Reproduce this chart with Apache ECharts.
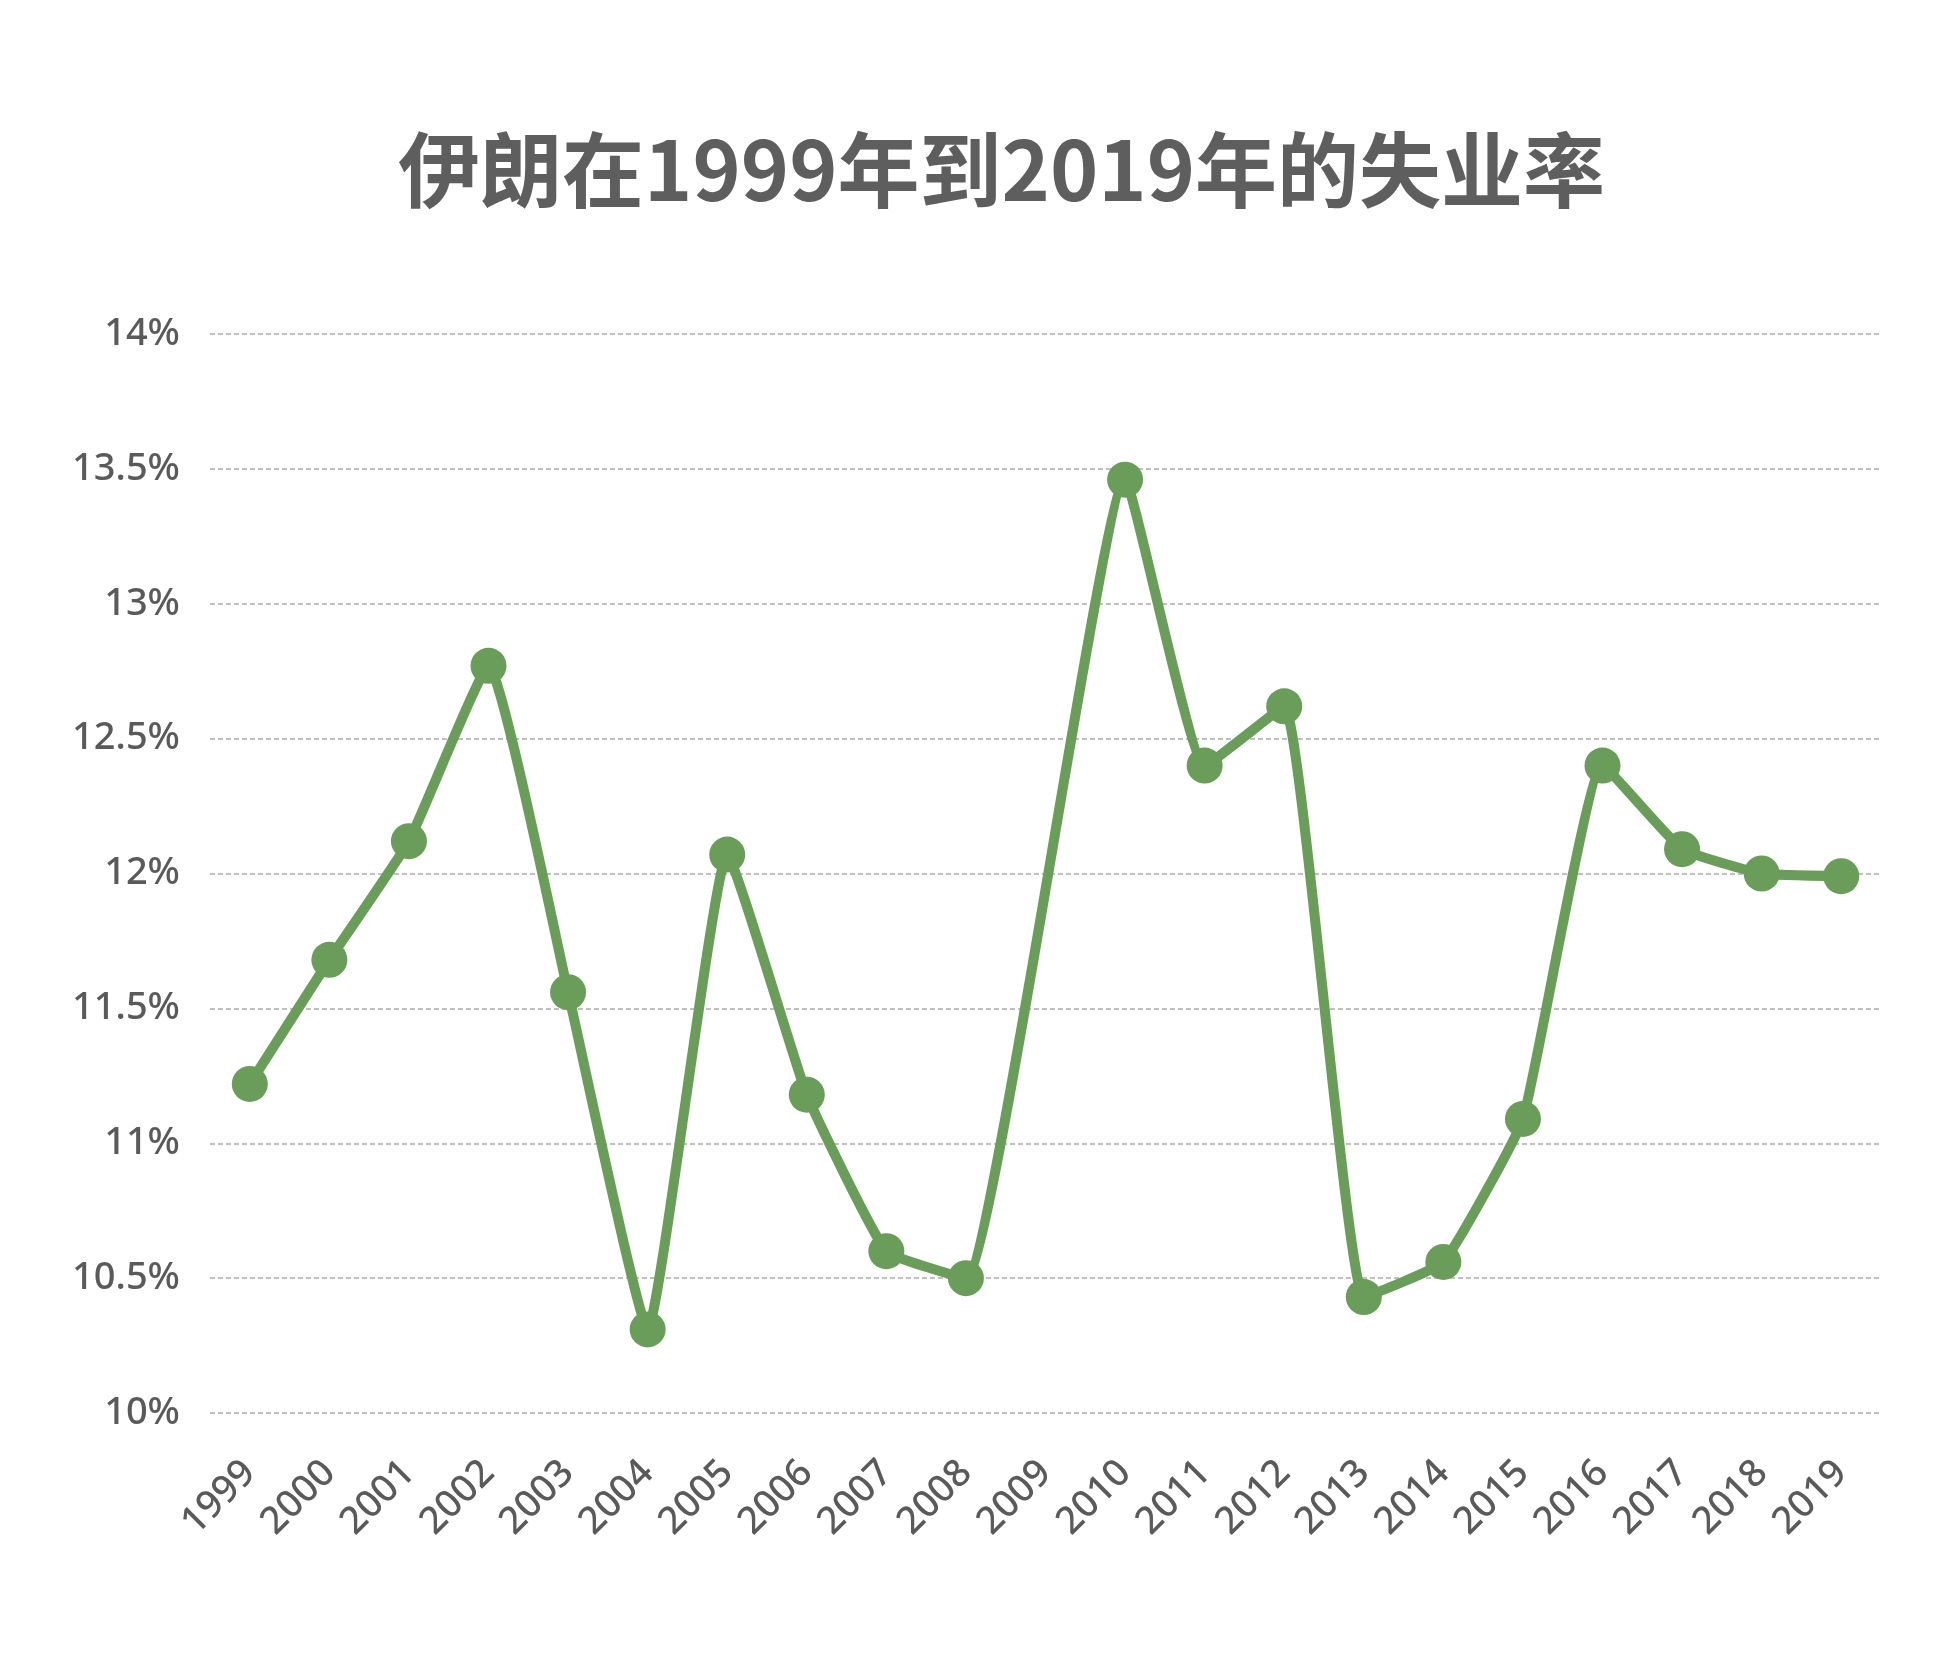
<!DOCTYPE html>
<html>
<head>
<meta charset="utf-8">
<script src="https://cdn.jsdelivr.net/npm/echarts@6/dist/echarts.min.js"></script>
<style>
html,body{margin:0;padding:0;background:#fff;}
#chart{width:1940px;height:1676px;}
</style>
</head>
<body>
<div id="chart"></div>
<script>
const titleText = '伊朗在1999年到2019年的失业率';
const years = ['1999','2000','2001','2002','2003','2004','2005','2006','2007','2008','2009','2010','2011','2012','2013','2014','2015','2016','2017','2018','2019'];
const unemployment = [11.22, 11.68, 12.12, 12.77, 11.56, 10.31, 12.07, 11.18, 10.60, 10.50, null, 13.46, 12.40, 12.62, 10.43, 10.56, 11.09, 12.40, 12.09, 12.00, 11.99];
const yMin = 10, yMax = 14, yStep = 0.5;

const chart = echarts.init(document.getElementById('chart'));
chart.setOption({
  backgroundColor: '#ffffff',
  animation: false,
  title: {
    text: titleText,
    left: 393,
    top: 124,
    textStyle: {
      fontFamily: 'Noto Sans CJK SC',
      fontSize: 82,
      fontWeight: 'bold',
      color: '#5e5e5e'
    }
  },
  grid: { left: 210, right: 59, top: 334, bottom: 263, containLabel: false },
  xAxis: {
    type: 'category',
    data: years,
    boundaryGap: true,
    axisLine: { show: false },
    axisTick: { show: false },
    axisLabel: {
      rotate: 45,
      margin: 54,
      interval: 0,
      fontFamily: 'Noto Sans',
      fontSize: 38,
      fontWeight: 500,
      color: '#5a5a5a'
    }
  },
  yAxis: {
    type: 'value',
    min: yMin,
    max: yMax,
    interval: yStep,
    axisLine: { show: false },
    axisTick: { show: false },
    axisLabel: {
      margin: 30,
      formatter: v => v + '%',
      fontFamily: 'Noto Sans',
      fontSize: 38,
      fontWeight: 500,
      color: '#5a5a5a'
    },
    splitLine: { lineStyle: { color: '#c0c0c0', width: 2, type: [5, 3] } }
  },
  series: [{
    type: 'line',
    data: unemployment,
    connectNulls: true,
    smooth: 0.12,
    symbol: 'circle',
    symbolSize: 36,
    lineStyle: { color: '#6a9d5a', width: 10 },
    itemStyle: { color: '#6a9d5a' }
  }]
});
</script>
</body>
</html>
